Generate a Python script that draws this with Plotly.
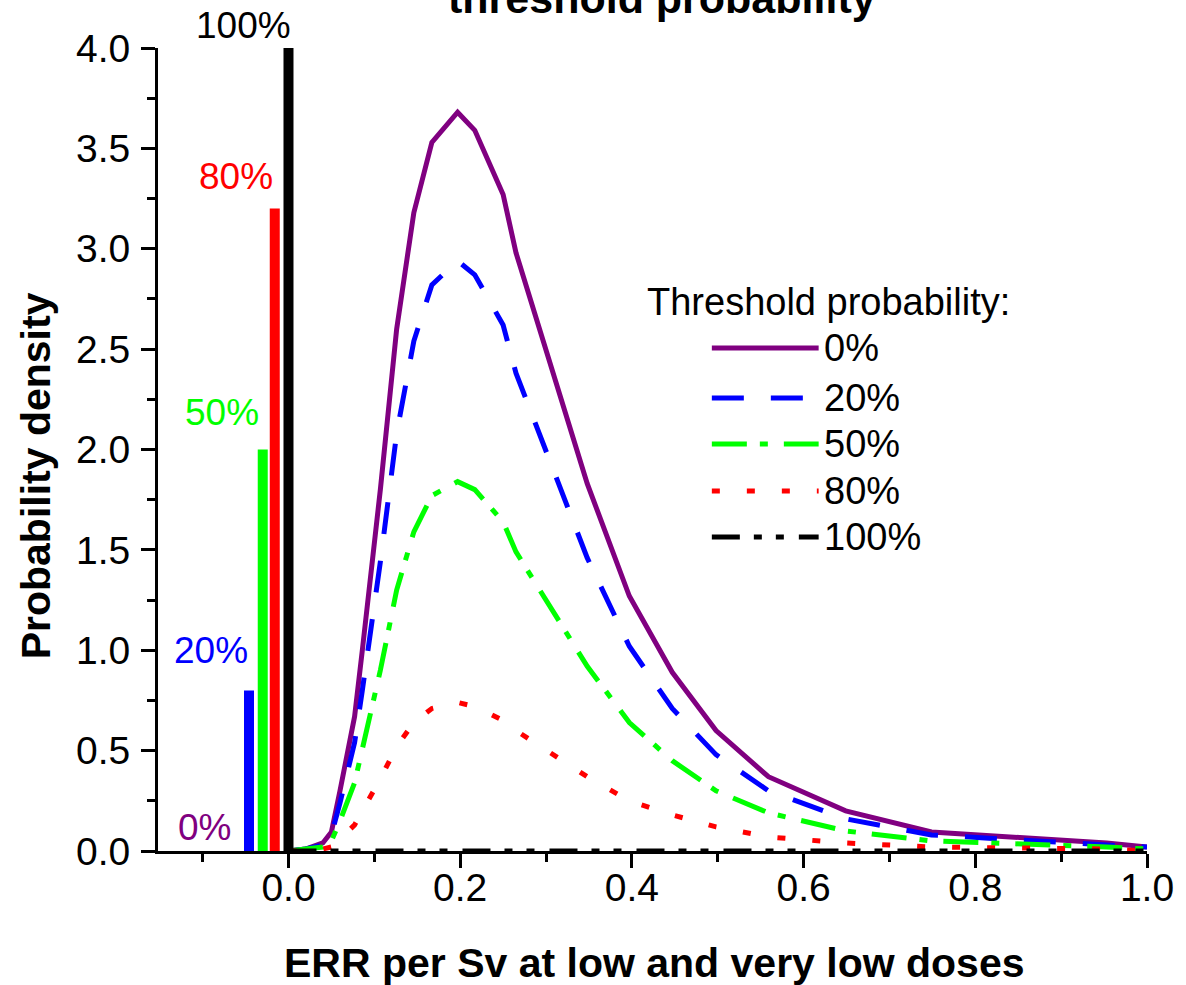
import plotly.graph_objects as go

# ---------------- data ----------------
err_x = [0.0, 0.02, 0.04, 0.05, 0.06, 0.077, 0.086, 0.107, 0.126, 0.146, 0.167,
         0.197, 0.217, 0.25, 0.265, 0.348, 0.397, 0.447, 0.498, 0.559, 0.649,
         0.749, 0.953, 1.0]

dens_0 = [0.0, 0.01, 0.04, 0.095, 0.30, 0.67, 1.00, 1.80, 2.60, 3.18, 3.53,
          3.68, 3.59, 3.27, 2.98, 1.83, 1.27, 0.89, 0.60, 0.37, 0.20,
          0.095, 0.04, 0.02]
dens_20 = [0.0, 0.01, 0.03, 0.08, 0.24, 0.54, 0.80, 1.44, 2.08, 2.54, 2.82,
           2.94, 2.87, 2.62, 2.38, 1.46, 1.02, 0.71, 0.48, 0.30, 0.16,
           0.08, 0.03, 0.02]
dens_50 = [0.0, 0.01, 0.02, 0.05, 0.15, 0.34, 0.50, 0.90, 1.30, 1.59, 1.77,
           1.84, 1.80, 1.64, 1.49, 0.92, 0.64, 0.45, 0.30, 0.19, 0.10,
           0.05, 0.02, 0.01]
dens_80 = [0.0, 0.0, 0.01, 0.02, 0.06, 0.13, 0.20, 0.36, 0.52, 0.64, 0.71,
           0.74, 0.72, 0.65, 0.60, 0.37, 0.25, 0.18, 0.12, 0.07, 0.04,
           0.02, 0.01, 0.0]
dens_100 = [0.0] * len(err_x)

series_labels = ["0%", "20%", "50%", "80%", "100%"]
series_values = [dens_0, dens_20, dens_50, dens_80, dens_100]

# point masses at zero (drawn slightly offset for visibility)
mass_labels = ["20%", "50%", "80%", "100%"]
mass_x = [-0.046, -0.030, -0.016, 0.0]
mass_height = [0.8, 2.0, 3.2, 4.0]

# ---------------- styles ----------------
FONT = "Liberation Sans, Arial, sans-serif"
colors = ["#800080", "#0000FF", "#00FF00", "#FF0000", "#000000"]
dashes = ["solid", "32px,27px", "35px,13px,8px,16px", "8px,27px",
          "28px,14px,8px,14px,8px,15px"]
mass_colors = ["#0000FF", "#00FF00", "#FF0000", "#000000"]

fig = go.Figure()

for lab, vals, c, d in zip(series_labels, series_values, colors, dashes):
    fig.add_trace(go.Scatter(x=err_x, y=vals, mode="lines", name=lab,
                             line=dict(color=c, width=5, dash=d),
                             showlegend=False, hoverinfo="skip"))

for lab, bx, bh, c in zip(mass_labels, mass_x, mass_height, mass_colors):
    fig.add_trace(go.Scatter(x=[bx, bx], y=[0, bh], mode="lines", name=lab,
                             line=dict(color=c, width=10),
                             showlegend=False, hoverinfo="skip"))

annotations = []
# labels of the point masses (x in data units, y in paper units)
label_pos = [(-0.098, 0.0289), (-0.090, 0.2503), (-0.078, 0.5455), (-0.061, 0.8394), (-0.052, 1.0286)]
for lab, c, (lx, ly) in zip(series_labels, colors, label_pos):
    annotations.append(dict(x=lx, y=ly, xref="x", yref="paper", text=lab, showarrow=False,
                            xanchor="center", yanchor="middle",
                            font=dict(family=FONT, size=37, color=c)))

# manual legend
leg_rows = [0.6264, 0.5641, 0.5068, 0.4483, 0.3910]
shapes = []
annotations.append(dict(x=0.492, y=0.6837, xref="paper", yref="paper",
                        text="Threshold probability:", showarrow=False,
                        xanchor="left", yanchor="middle",
                        font=dict(family=FONT, size=38, color="black")))
for lab, c, d, ry in zip(series_labels, colors, dashes, leg_rows):
    shapes.append(dict(type="line", xref="paper", yref="paper",
                       x0=0.560, x1=0.668, y0=ry, y1=ry,
                       line=dict(color=c, width=5, dash=d)))
    annotations.append(dict(x=0.671, y=ry, xref="paper", yref="paper",
                            text=lab, showarrow=False, xanchor="left", yanchor="middle",
                            font=dict(family=FONT, size=38, color="black")))

# titles
annotations.append(dict(x=0.51, y=1.030, xref="paper", yref="paper",
                        text="threshold probability", showarrow=False,
                        xanchor="center", yanchor="bottom",
                        font=dict(family=FONT, size=43, color="black", weight="bold")))
annotations.append(dict(x=0.502, y=-0.1395, xref="paper", yref="paper",
                        text="ERR per Sv at low and very low doses", showarrow=False,
                        xanchor="center", yanchor="middle",
                        font=dict(family=FONT, size=41, color="black", weight="bold")))
annotations.append(dict(x=-0.123, y=0.467, xref="paper", yref="paper",
                        text="Probability density", showarrow=False, textangle=-90,
                        xanchor="center", yanchor="middle",
                        font=dict(family=FONT, size=41, color="black", weight="bold")))

axis_common = dict(showline=True, linecolor="black", linewidth=3, ticks="outside",
                   ticklen=14, tickwidth=3, tickcolor="black", showgrid=False,
                   zeroline=False, tickformat=".1f", ticklabeloverflow="allow",
                   tickfont=dict(family=FONT, size=39, color="black"))

fig.update_layout(
    width=1186, height=985,
    margin=dict(l=158, r=28, t=48, b=134),
    plot_bgcolor="white", paper_bgcolor="white",
    xaxis=dict(range=[-0.152, 1.0], tick0=0, dtick=0.2, ticklabelstandoff=-14,
               minor=dict(dtick=0.1, tick0=0, ticks="outside", ticklen=8, tickwidth=3,
                          tickcolor="black", showgrid=False),
               **axis_common),
    yaxis=dict(range=[0, 4.0], tick0=0, dtick=0.5, ticklabelstandoff=3,
               minor=dict(dtick=0.25, tick0=0, ticks="outside", ticklen=8, tickwidth=3,
                          tickcolor="black", showgrid=False),
               **axis_common),
    annotations=annotations,
    shapes=shapes,
    showlegend=False,
)

fig.write_html("out.html", config={"displayModeBar": False},
               post_script="document.body.style.margin='0';document.body.style.overflow='hidden';")
